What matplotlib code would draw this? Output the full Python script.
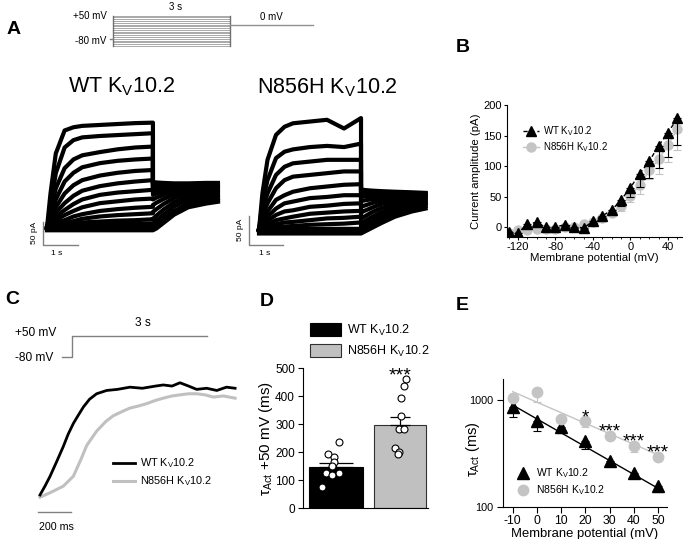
import matplotlib
matplotlib.use('Agg')
import matplotlib.pyplot as plt
import numpy as np
from matplotlib.ticker import MultipleLocator, FixedLocator, NullLocator

plt.rcParams['font.family'] = ['Liberation Sans', 'DejaVu Sans']
plt.rcParams['mathtext.fontset'] = 'custom'
plt.rcParams['mathtext.rm'] = 'Liberation Sans'
plt.rcParams['mathtext.it'] = 'Liberation Sans:italic'
plt.rcParams['mathtext.bf'] = 'Liberation Sans:bold'
plt.rcParams['axes.unicode_minus'] = False

WT = 'WT K$_\\mathregular{V}$10.2'
MUT = 'N856H K$_\\mathregular{V}$10.2'
GREY = '#c4c4c4'

# ---- panel A protocol
step_mv = list(range(-120, 60, 10))
hold_mv = -80
tail_mv = 0

# ---- panel A traces (pA), step at +V for 3 s then tail at 0 mV
t_step = [0, 0.1, 0.25, 0.5, 0.75, 1.0, 1.5, 2.0, 2.5, 3.0]
wt_step = [
    [0, 75, 162, 212, 219, 222, 224, 226, 228, 229],
    [0, 46, 119, 175, 191, 197, 200, 202, 204, 206],
    [0, 36, 86, 130, 149, 158, 165, 171, 175, 177],
    [0, 26, 62, 101, 120, 132, 141, 146, 149, 151],
    [0, 20, 45, 75, 93, 104, 114, 120, 124, 126],
    [0, 15, 33, 54, 70, 81, 91, 97, 101, 104],
    [0, 12, 24, 39, 52, 62, 72, 77, 80, 83],
    [0, 9, 17, 28, 37, 45, 54, 58, 62, 64],
    [0, 6, 11, 17, 25, 30, 37, 41, 44, 46],
    [0, 3, 6, 10, 15, 20, 25, 28, 30, 32],
    [0, 1, 3, 6, 9, 12, 14, 16, 17, 19],
    [0, 0, 1, 3, 4, 7, 7, 9, 9, 10],
]
t_tail_wt = [3.0, 3.1, 3.3, 3.6, 4.0, 4.5, 4.84]
wt_tail = [
    [100, 99, 98, 97, 97, 98, 98],
    [96, 95, 95, 94, 95, 96, 96],
    [92, 92, 92, 92, 93, 94, 94],
    [88, 88, 89, 90, 91, 92, 92],
    [84, 85, 86, 88, 89, 90, 90],
    [79, 81, 83, 86, 88, 88, 88],
    [72, 75, 79, 83, 86, 87, 87],
    [62, 66, 72, 79, 84, 85, 85],
    [50, 55, 63, 73, 80, 82, 83],
    [35, 41, 52, 65, 75, 79, 80],
    [20, 27, 40, 56, 68, 74, 76],
    [10, 16, 29, 47, 61, 68, 71],
]
wt_base = [-5, -1, 3]
wt_base_tail = [0, 4, 16, 34, 50, 58, 62]

mut_step = [
    [0, 63, 121, 164, 178, 184, 187, 190, 175, 193],
    [0, 46, 86, 124, 135, 139, 143, 145, 143, 149],
    [0, 34, 63, 95, 109, 115, 118, 121, 121, 121],
    [0, 26, 46, 72, 86, 92, 95, 98, 101, 101],
    [0, 18, 32, 52, 60, 66, 72, 75, 78, 79],
    [0, 13, 23, 37, 46, 49, 55, 57, 60, 60],
    [0, 9, 16, 26, 32, 34, 40, 42, 45, 46],
    [0, 6, 10, 17, 20, 23, 28, 30, 32, 33],
    [0, 3, 6, 10, 13, 14, 17, 20, 21, 23],
    [0, 1, 3, 5, 6, 7, 9, 10, 11, 13],
]
t_tail_mut = [3.0, 3.1, 3.3, 3.6, 4.0, 4.5, 4.9]
mut_tail = [
    [70, 69, 68, 67, 66, 65, 64],
    [66, 66, 65, 65, 64, 63, 63],
    [62, 62, 62, 62, 62, 62, 62],
    [57, 58, 58, 59, 60, 60, 60],
    [50, 51, 53, 55, 57, 58, 58],
    [40, 42, 46, 51, 54, 56, 56],
    [30, 33, 38, 45, 50, 53, 54],
    [20, 23, 30, 38, 45, 50, 51],
    [12, 15, 22, 31, 40, 46, 48],
    [6, 9, 16, 25, 35, 42, 46],
]
mut_base = [-6, -2, 2]
mut_base_tail = [0, 3, 9, 18, 29, 38, 43]

# ---- panel B: I-V
iv_mv = [-130, -120, -110, -100, -90, -80, -70, -60, -50, -40, -30, -20, -10, 0, 10, 20, 30, 40, 50]
iv_wt = [-7, -9, 5, 8, 0, 1, 4, 1, -1, 10, 19, 28, 45, 65, 88, 108, 133, 155, 178]
iv_wt_err = [3, 3, 3, 3, 2, 2, 2, 2, 2, 3, 4, 6, 10, 15, 22, 28, 36, 40, 43]
iv_mut = [-10, -4, -4, -3, -3, -2, 0, 1, 5, 8, 16, 24, 35, 52, 69, 93, 111, 135, 160]
iv_mut_err = [2, 2, 2, 2, 2, 2, 2, 2, 2, 3, 4, 5, 8, 11, 14, 14, 23, 28, 34]

# ---- panel C: normalized traces at +50 mV
c_t_wt = [0, 30, 61, 100, 141, 170, 202, 230, 263, 300, 343, 404, 470, 545, 620, 700, 747, 800, 848, 900, 949, 1010, 1071, 1130, 1182]
c_wt = [0, 0.08, 0.17, 0.30, 0.44, 0.55, 0.65, 0.72, 0.80, 0.87, 0.92, 0.95, 0.96, 0.98, 0.97, 0.99, 1.0, 0.99, 1.02, 0.99, 0.96, 0.97, 0.95, 0.98, 0.97]
c_t_mut = [0, 61, 141, 202, 250, 283, 343, 400, 444, 500, 545, 600, 646, 700, 747, 800, 848, 900, 949, 1000, 1050, 1110, 1182]
c_mut = [-0.02, 0.02, 0.08, 0.17, 0.33, 0.45, 0.58, 0.67, 0.72, 0.76, 0.79, 0.81, 0.83, 0.86, 0.88, 0.90, 0.91, 0.92, 0.92, 0.91, 0.89, 0.90, 0.88]

# ---- panel D: tau act at +50 mV
d_groups = [WT, MUT]
d_mean = [146, 298]
d_err = [15, 29]
d_wt_pts = [238, 194, 182, 167, 152, 127, 127, 119, 77]
d_wt_x = [0.047, -0.13, -0.036, -0.026, -0.062, -0.156, 0.042, -0.067, -0.218]
d_mut_pts = [463, 437, 393, 330, 282, 282, 217, 200, 193]
d_mut_x = [0.09, 0.059, 0.008, 0.017, -0.014, 0.059, -0.081, -0.014, -0.03]

# ---- panel E: tau act vs voltage
e_mv = [-10, 0, 10, 20, 30, 40, 50]
e_wt = [855, 641, 564, 418, 272, 207, 158]
e_wt_lo = [700, 518, 497, 349, 243, 189, 140]
e_mut = [1052, 1197, 670, 641, 462, 373, 292]
e_mut_lo = [1000, 964, 640, 555, 430, 330, 280]
e_fit_mv = [-10, 50]
e_fit_wt = [898, 150]
e_fit_mut = [1197, 308]
e_star_mv = [20, 30, 40, 50]
e_star_y = [778, 573, 462, 367]
e_star = ['*', '***', '***', '***']

W, H = 685, 539
fig = plt.figure(figsize=(W / 100, H / 100), dpi=100)


def box(x0, y0, x1, y1):
    return fig.add_axes([x0 / W, 1 - y1 / H, (x1 - x0) / W, (y1 - y0) / H])


def ftext(x, y, s, **kw):
    fig.text(x / W, 1 - y / H, s, **kw)


# panel letters
for lab, x, y in [('A', 14, 30), ('B', 463, 47), ('C', 12, 300), ('D', 267, 301), ('E', 462, 306)]:
    ftext(x, y, lab, fontsize=14, fontweight='bold', ha='center', va='center')

# ---------------- A: protocol
ax = box(60, 0, 320, 55)
ax.axis('off')
ax.set_xlim(-1.37, 5.31)
ax.set_ylim(-170.8, 138.2)
for v in step_mv:
    ax.plot([0, 3], [v, v], color='#a8a8a8', lw=0.7)
ax.plot([0, 0], [min(step_mv), max(step_mv)], color='#707070', lw=1)
ax.plot([3, 3], [min(step_mv), max(step_mv)], color='#707070', lw=1)
ax.plot([-0.08, 0], [hold_mv, hold_mv], color='#808080', lw=1)
ax.plot([3, 5.13], [tail_mv, tail_mv], color='#909090', lw=1)
ax.text(-0.17, max(step_mv), '+50 mV', ha='right', va='center', fontsize=7)
ax.text(-0.17, hold_mv - 12, '-80 mV', ha='right', va='center', fontsize=7)
ax.text(1.6, 100, '3 s', ha='center', va='center', fontsize=7)
ax.text(4.07, 41, '0 mV', ha='center', va='center', fontsize=7)

ftext(121.5, 92.3, WT, fontsize=15.5, ha='center', va='baseline')
ftext(327.8, 93.3, MUT, fontsize=15.5, ha='center', va='baseline')


def draw_family(ax, steps, tails, base, base_tail, t_tail):
    for s, tl in zip(steps, tails):
        ax.plot(t_step + t_tail, s + tl, color='black', lw=3.0, solid_joinstyle='round')
    for b in base:
        ax.plot(t_step + t_tail, [b] * len(t_step) + [b + v for v in base_tail], color='black', lw=3.0)


ax = box(30, 110, 225, 260)
ax.axis('off')
ax.set_xlim(-0.48, 5.04)
ax.set_ylim(-69.6, 256.5)
draw_family(ax, wt_step, wt_tail, wt_base, wt_base_tail, t_tail_wt)
ax.plot([-0.11, -0.11, 0.89], [13, -37, -37], color='#808080', lw=1)
ftext(34, 233, '50 pA', rotation=90, fontsize=6, ha='center', va='center')
ftext(57, 253, '1 s', fontsize=6, ha='center', va='center')

ax = box(240, 110, 435, 260)
ax.axis('off')
ax.set_xlim(-0.559, 5.176)
ax.set_ylim(-51.7, 206.9)
draw_family(ax, mut_step, mut_tail, mut_base, mut_base_tail, t_tail_mut)
ax.plot([-0.294, -0.294, 0.706], [24.1, -25.9, -25.9], color='#808080', lw=1)
ftext(241, 230, '50 pA', rotation=90, fontsize=6, ha='center', va='center')
ftext(265, 253, '1 s', fontsize=6, ha='center', va='center')

# ---------------- B: I-V
ax = box(506.7, 105, 682, 236.7)
ax.set_xlim(-132, 55)
ax.set_ylim(-15.3, 200)
ax.errorbar(iv_mv, iv_mut, yerr=[iv_mut_err, [0] * len(iv_mut_err)], fmt='none',
            ecolor=GREY, elinewidth=0.8, capsize=3, capthick=0.8)
ax.plot(iv_mv, iv_mut, '-o', color=GREY, ms=6.5, lw=1, label=MUT)
ax.errorbar(iv_mv, iv_wt, yerr=[iv_wt_err, [0] * len(iv_wt_err)], fmt='none',
            ecolor='black', elinewidth=0.8, capsize=3, capthick=0.8)
ax.plot(iv_mv, iv_wt, '--^', color='black', ms=7.5, lw=1, dashes=(3, 2), label=WT)
h, l = ax.get_legend_handles_labels()
ax.legend(h[::-1], l[::-1], loc='upper left', bbox_to_anchor=(0.069, 0.882), frameon=False,
          fontsize=7, handlelength=1.7, handletextpad=0.4, labelspacing=0.25, borderaxespad=0)
ax.spines['top'].set_visible(False)
ax.spines['right'].set_visible(False)
ax.xaxis.set_major_locator(FixedLocator([-120, -80, -40, 0, 40]))
ax.xaxis.set_minor_locator(MultipleLocator(10))
ax.yaxis.set_major_locator(MultipleLocator(50))
ax.tick_params(direction='out', length=2.5, pad=1, labelsize=8, width=0.8)
ax.tick_params(which='minor', direction='out', length=1.5, width=0.6)
ax.set_xlabel('Membrane potential (mV)', fontsize=8.2, labelpad=1)
ax.set_ylabel('Current amplitude (pA)', fontsize=8.2, labelpad=2)

# ---------------- C: protocol
ax = box(10, 315, 240, 365)
ax.axis('off')
ax.set_xlim(-1.378, 3.733)
ax.set_ylim(-129.5, 180)
ax.plot([-0.222, 0, 0, 3], [hold_mv, hold_mv, 50, 50], color='#808080', lw=1)
ax.text(-1.267, 68, '+50 mV', ha='left', va='center', fontsize=8.6)
ax.text(-1.267, hold_mv - 5, '-80 mV', ha='left', va='center', fontsize=8.6)
ax.text(1.58, 130, '3 s', ha='center', va='center', fontsize=8.6)

ax = box(30, 370, 245, 535)
ax.axis('off')
ax.set_xlim(-60.6, 1242)
ax.set_ylim(-0.364, 1.136)
ax.plot(c_t_mut, c_mut, color='#c0c0c0', lw=2.2, label=MUT)
ax.plot(c_t_wt, c_wt, color='black', lw=2.0, label=WT)
ax.plot([-12, 188], [-0.155, -0.155], color='#808080', lw=1)
ax.text(97, -0.29, '200 ms', ha='center', va='center', fontsize=7.7)
h, l = ax.get_legend_handles_labels()
ax.legend(h[::-1], l[::-1], loc='upper left', bbox_to_anchor=(0.366, 0.503), frameon=False,
          fontsize=7.8, handlelength=2.0, handletextpad=0.46, labelspacing=0.4, borderaxespad=0)

# ---------------- D: bars
ax = box(303.3, 368.3, 428, 508.3)
ax.set_xlim(-0.509, 1.433)
ax.set_ylim(0, 500)
ax.bar([0], [d_mean[0]], width=0.83, color='black', edgecolor='black', lw=0.8, label=d_groups[0])
ax.bar([1], [d_mean[1]], width=0.81, color='#c0c0c0', edgecolor='#303030', lw=0.8, label=d_groups[1])
ax.errorbar([0], [d_mean[0]], yerr=[[0], [d_err[0]]], fmt='none', ecolor='black',
            elinewidth=0.9, capsize=12, capthick=0.9)
ax.errorbar([1], [d_mean[1]], yerr=[[0], [d_err[1]]], fmt='none', ecolor='black',
            elinewidth=0.9, capsize=7.5, capthick=0.9)
ax.plot(d_wt_x, d_wt_pts, 'o', mfc='white', mec='black', ms=5, mew=0.8)
ax.plot([1 + x for x in d_mut_x], d_mut_pts, 'o', mfc='white', mec='black', ms=5, mew=0.8)
ax.annotate('***', xy=(1, 497), xytext=(0, -8), textcoords='offset points',
            ha='center', va='baseline', fontsize=14)
ax.spines['top'].set_visible(False)
ax.spines['right'].set_visible(False)
ax.xaxis.set_major_locator(NullLocator())
ax.yaxis.set_major_locator(MultipleLocator(100))
ax.tick_params(direction='out', length=3.5, pad=2.5, labelsize=8.5, width=0.8)
ax.set_ylabel('τ$_\\mathregular{Act}$ +50 mV (ms)', fontsize=11)
ax.yaxis.set_label_coords(-0.229, 0.5)
ax.legend(loc='upper left', bbox_to_anchor=(0.014, 1.359), frameon=False, fontsize=9,
          handlelength=2.48, handleheight=1.2, handletextpad=0.48, labelspacing=0.45, borderaxespad=0)

# ---------------- E: tau vs voltage
ax = box(502.7, 379.3, 666.7, 507.3)
ax.set_yscale('log')
ax.set_xlim(-14.1, 53.5)
ax.set_ylim(100, 1560)
ax.plot(e_fit_mv, e_fit_mut, color=GREY, lw=1)
ax.plot(e_fit_mv, e_fit_wt, color='black', lw=1)
ax.errorbar(e_mv, e_mut, yerr=[[m - lo for m, lo in zip(e_mut, e_mut_lo)], [0] * len(e_mv)],
            fmt='none', ecolor=GREY, elinewidth=0.8, capsize=3, capthick=0.8)
ax.errorbar(e_mv, e_wt, yerr=[[m - lo for m, lo in zip(e_wt, e_wt_lo)], [0] * len(e_mv)],
            fmt='none', ecolor='black', elinewidth=0.8, capsize=3, capthick=0.8)
ax.plot(e_mv, e_wt, '^', color='black', ms=8, label=WT)
ax.plot(e_mv, e_mut, 'o', color=GREY, ms=7.5, label=MUT)
for x, y, s in zip(e_star_mv, e_star_y, e_star):
    ax.annotate(s, xy=(x, y), xytext=(0, -7.7), textcoords='offset points',
                ha='center', va='baseline', fontsize=13.5)
ax.legend(loc='upper left', bbox_to_anchor=(0.068, 0.35), frameon=False, fontsize=7.5,
          handlelength=1.0, handletextpad=0.72, labelspacing=0.3, borderaxespad=0)
ax.spines['top'].set_visible(False)
ax.spines['right'].set_visible(False)
ax.xaxis.set_major_locator(MultipleLocator(10))
ax.yaxis.set_major_locator(FixedLocator([100, 1000]))
ax.yaxis.set_minor_locator(NullLocator())
ax.set_yticklabels(['100', '1000'])
ax.tick_params(direction='out', length=4, pad=1.5, labelsize=8.8, width=0.8)
ax.tick_params(axis='y', labelsize=7.8, pad=3)
ax.set_xlabel('Membrane potential (mV)', fontsize=9.4, labelpad=1)
ax.set_ylabel('τ$_\\mathregular{Act}$ (ms)', fontsize=10.5)
ax.yaxis.set_label_coords(-0.126, 0.45)

fig.savefig('out.png', dpi=100, facecolor='white')
